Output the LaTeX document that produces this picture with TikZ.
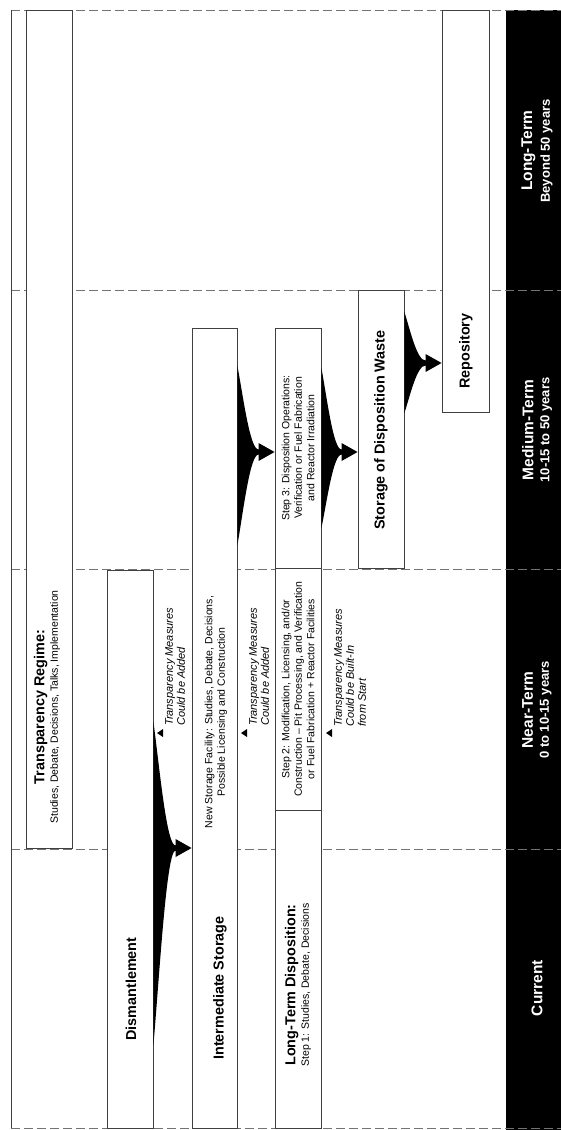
\documentclass[tikz,border=0pt]{standalone}
\usepackage{fontspec}
\setmainfont{Liberation Sans}
\usetikzlibrary{calc}

\tikzset{
  stage/.style={draw=black!75, line width=0.9pt, fill=white, inner sep=0pt},
  boxtitle/.style={rotate=90, font=\fontsize{14.4}{16}\selectfont\bfseries, inner sep=0pt},
  boxtext/.style={rotate=90, font=\fontsize{10.5}{12.5}\selectfont, align=center, inner sep=0pt},
  note/.style={rotate=90, anchor=north west, font=\fontsize{11}{12}\selectfont\itshape, align=left, inner sep=0pt},
  period/.style={rotate=90, text=white, align=center, inner sep=0pt},
  sep/.style={black!55, line width=0.9pt, dash pattern=on 9pt off 4pt},
}

% funnel arrow: from, to, top, bottom, middle
\newcommand{\funnel}[5]{%
  \fill let \p1=(#1.east), \p2=(#2.west), \n1={\x2-16pt-\x1} in
    (\x1,#3) .. controls ({\x1+0.3*\n1},{(#5)+0.6*((#3)-(#5))}) and ({\x1+0.6*\n1},{(#5)+2.5}) .. ({\x2-16pt},{(#5)+2.5})
    -- ({\x2-16pt},{(#5)+9}) -- (\x2,#5) -- ({\x2-16pt},{(#5)-9}) -- ({\x2-16pt},{(#5)-2.5})
    .. controls ({\x1+0.6*\n1},{(#5)-2.5}) and ({\x1+0.3*\n1},{(#5)-0.6*((#5)-(#4))}) .. (\x1,#4) -- cycle;}

\begin{document}
\begin{tikzpicture}[x=1pt, y=1pt]
  \useasboundingbox (0,0) rectangle (561,-1130);
  % Time band
  \fill[black] (506,-10) rectangle (561,-1130);
  \foreach \y in {-10,-290,-569,-849,-1128}
    \draw[sep] (11,\y) -- (561,\y);
  \draw[black!75, line width=0.9pt] (11,-10) -- (11,-1128);
  % Boxes
  \node[stage, minimum width=46pt, minimum height=838pt] (regime) at (49,-429) {};
  \node[stage, minimum width=46pt, minimum height=558pt] (dism) at (130,-849) {};
  \node[stage, minimum width=45pt, minimum height=800pt] (inter) at (214.5,-728) {};
  \node[stage, minimum width=46pt, minimum height=318pt] (step1) at (298,-969) {};
  \node[stage, minimum width=46pt, minimum height=242pt] (step2) at (298,-689) {};
  \node[stage, minimum width=46pt, minimum height=240pt] (step3) at (298,-448) {};
  \node[stage, minimum width=46pt, minimum height=278pt] (waste) at (381,-429) {};
  \node[stage, minimum width=47pt, minimum height=402pt] (repo) at (465.5,-211) {};
  % Funnels
  \funnel{dism}{inter}{-722}{-1045}{-848}
  \funnel{inter}{step3}{-366}{-545}{-452}
  \funnel{step3}{waste}{-368}{-528}{-452}
  \funnel{waste}{repo}{-312}{-413}{-363}
  % Box texts
  \node[boxtext] (regimetext) at (47,-707) {{\fontsize{14.4}{16}\selectfont\bfseries Transparency Regime:}\\[1pt]Studies, Debate, Decisions, Talks, Implementation};
  \node[boxtitle] (dismtext) at (131,-989) {Dismantlement};
  \node[boxtitle] (intertext) at (220,-988) {Intermediate Storage};
  \node[boxtext] (newstore) at (216,-712) {New Storage Facility: Studies, Debate, Decisions,\\Possible Licensing and Construction};
  \node[boxtext] (step1text) at (298,-985) {{\fontsize{14.4}{16}\selectfont\bfseries Long-Term Disposition:}\\[1pt]Step 1: Studies, Debate, Decisions};
  \node[boxtext] (step2text) at (298,-689) {Step 2: Modification, Licensing, and/or\\Construction -- Pit Processing, and Verification\\or Fuel Fabrication + Reactor Facilities};
  \node[boxtext] (step3text) at (298,-448) {Step 3: Disposition Operations:\\Verification or Fuel Fabrication\\and Reactor Irradiation};
  \node[boxtitle] (wastetext) at (381,-430) {Storage of Disposition Waste};
  \node[boxtitle] (repotext) at (466,-351) {Repository};
  % Notes
  \fill (157,-733) -- (163,-729) -- (163,-737) -- cycle;
  \node[note] (note1) at (165,-726) {Transparency Measures\\Could be Added};
  \fill (241,-733) -- (247,-729) -- (247,-737) -- cycle;
  \node[note] (note2) at (249,-726) {Transparency Measures\\Could be Added};
  \fill (326,-733) -- (332,-729) -- (332,-737) -- cycle;
  \node[note] (note3) at (334,-727) {Transparency Measures\\Could be Built-In\\from Start};
  % Periods
  \node[period] (current) at (537,-988) {\fontsize{15.5}{18}\selectfont\bfseries Current};
  \node[period] (near) at (537,-710) {{\fontsize{15.5}{18}\selectfont\bfseries Near-Term}\\[4pt]{\fontsize{13}{15}\selectfont\bfseries 0 to 10-15 years}};
  \node[period] (medium) at (537,-430) {{\fontsize{15.5}{18}\selectfont\bfseries Medium-Term}\\[4pt]{\fontsize{13}{15}\selectfont\bfseries 10-15 to 50 years}};
  \node[period] (long) at (537,-151) {{\fontsize{15.5}{18}\selectfont\bfseries Long-Term}\\[4pt]{\fontsize{13}{15}\selectfont\bfseries Beyond 50 years}};
\end{tikzpicture}
\end{document}
